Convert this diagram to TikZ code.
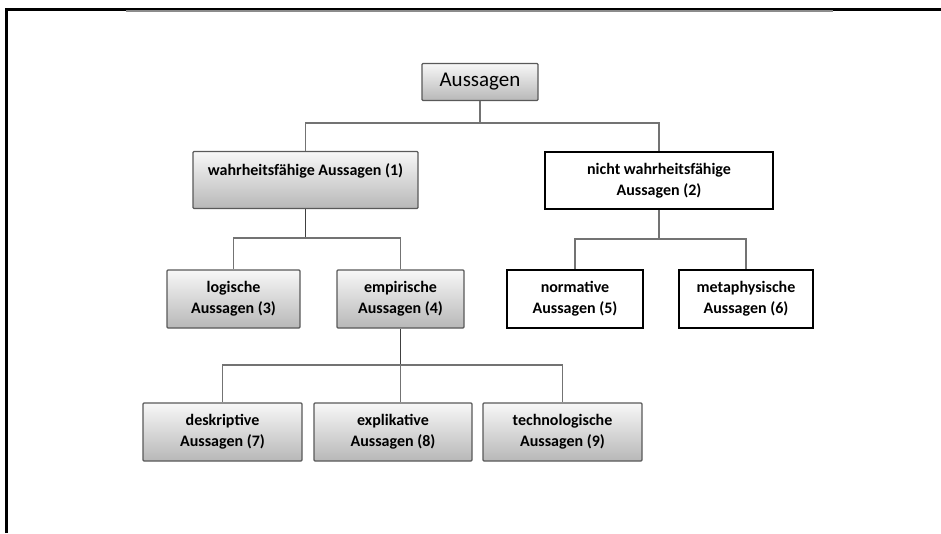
\documentclass[tikz,border=0pt]{standalone}
\usepackage{fontspec}
\setmainfont{Carlito}
\begin{document}
\begin{tikzpicture}[x=1pt,y=-1pt,
  box/.style={draw=black!65, line width=1.1pt, rounded corners=1pt,
    top color=black!3, bottom color=black!28, align=center,
    font=\bfseries\fontsize{16}{21}\selectfont, inner sep=0pt},
  wbox/.style={draw=black, line width=2pt, fill=white, align=center,
    font=\bfseries\fontsize{16}{21}\selectfont, inner sep=0pt},
  conn/.style={draw=black!55, line width=1.3pt}]
\useasboundingbox (0,0) rectangle (941,533);
% frame
\draw[line width=3pt] (6.5,533) -- (6.5,9) -- (941,9);
\draw[black!45, line width=1.2pt] (126,11) -- (833,11);
% nodes
\node[box, minimum width=116, minimum height=37, font=\fontsize{21}{24}\selectfont] (top) at (480,82) {Aussagen};
\node[box, minimum width=225, minimum height=57] (n1) at (305.5,180) {wahrheitsfähige Aussagen (1)\\\mbox{}};
\node[wbox, minimum width=228, minimum height=57] (n2) at (659,180.5) {nicht wahrheitsfähige\\Aussagen (2)};
\node[box, minimum width=133, minimum height=58] (n3) at (233.5,299) {logische\\Aussagen (3)};
\node[box, minimum width=127, minimum height=58] (n4) at (400.5,299) {empirische\\Aussagen (4)};
\node[wbox, minimum width=136, minimum height=58] (n5) at (575,299) {normative\\Aussagen (5)};
\node[wbox, minimum width=134, minimum height=58] (n6) at (746,299) {metaphysische\\Aussagen (6)};
\node[box, minimum width=159, minimum height=58] (n7) at (222.5,432) {deskriptive\\Aussagen (7)};
\node[box, minimum width=158, minimum height=58] (n8) at (393,432) {explikative\\Aussagen (8)};
\node[box, minimum width=159, minimum height=58] (n9) at (562.5,432) {technologische\\Aussagen (9)};
% junctions
\coordinate (j0) at (480,123);
\coordinate (j1) at (305.5,238);
\coordinate (j2) at (659,239);
\coordinate (j4) at (400.5,365);
% connectors
\draw[conn] (top.south) -- (j0);
\draw[conn] (j0) -| (n1.north);
\draw[conn] (j0) -| (n2.north);
\draw[conn, draw=black!75] (n1.south) -- (j1);
\draw[conn] (j1) -| (n3.north);
\draw[conn] (j1) -| (n4.north);
\draw[conn] (n2.south) -- (j2);
\draw[conn] (j2) -| (n5.north);
\draw[conn] (j2) -| (n6.north);
\draw[conn, draw=black!75] (n4.south) -- (j4);
\draw[conn] (j4) -| (n7.north);
\draw[conn] (j4) -- (j4 |- n8.north);
\draw[conn] (j4) -| (n9.north);
\end{tikzpicture}
\end{document}
